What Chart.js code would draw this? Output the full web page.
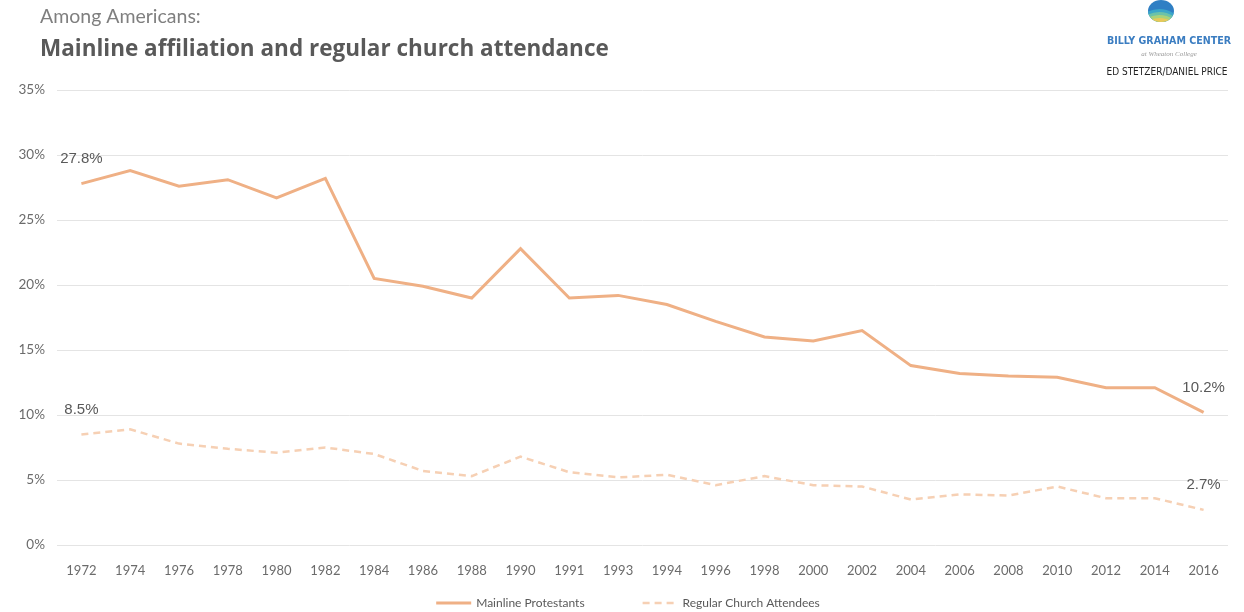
<!DOCTYPE html>
<html>
<head>
<meta charset="utf-8">
<script src="https://cdn.jsdelivr.net/npm/chart.js@4.4.1/dist/chart.umd.min.js"></script>
<style>
  html, body { margin: 0; padding: 0; background: #fff; }
  #wrap { position: relative; width: 1244px; height: 612px; }
</style>
</head>
<body>
<div id="wrap"><canvas id="chart_mainlineAttendance"></canvas></div>
<script>
// data
var years = ['1972', '1974', '1976', '1978', '1980', '1982', '1984', '1986', '1988', '1990', '1991', '1993',
             '1994', '1996', '1998', '2000', '2002', '2004', '2006', '2008', '2010', '2012', '2014', '2016'];
var mainlineProtestants = [27.8, 28.8, 27.6, 28.1, 26.7, 28.2, 20.5, 19.9, 19.0, 22.8, 19.0, 19.2,
                           18.5, 17.2, 16.0, 15.7, 16.5, 13.8, 13.2, 13.0, 12.9, 12.1, 12.1, 10.2];
var regularAttendees = [8.5, 8.9, 7.8, 7.4, 7.1, 7.5, 7.0, 5.7, 5.3, 6.8, 5.6, 5.2,
                        5.4, 4.6, 5.3, 4.6, 4.5, 3.5, 3.9, 3.8, 4.5, 3.6, 3.6, 2.7];
var yTicks = [0, 5, 10, 15, 20, 25, 30, 35];

var textGray = '#595959';
var tickGray = '#6b6b6b';

var chart_mainlineAttendance = new Chart(document.getElementById('chart_mainlineAttendance'), {
    type: 'line',
    data: {
        labels: years,
        datasets: [
            {
                label: 'Mainline Protestants',
                data: mainlineProtestants,
                borderColor: '#efb085',
                backgroundColor: '#efb085',
                borderWidth: 3,
                pointRadius: 0,
                tension: 0
            },
            {
                label: 'Regular Church Attendees',
                data: regularAttendees,
                borderColor: '#f6d0b4',
                backgroundColor: '#f6d0b4',
                borderWidth: 2.5,
                borderDash: [7, 5],
                pointRadius: 0,
                tension: 0
            }
        ]
    },
    options: {
        animation: false,
        responsive: true,
        maintainAspectRatio: false,
        layout: {
            padding: { top: 90, right: 16, bottom: 0, left: 0 }
        },
        plugins: {
            legend: { display: false },
            tooltip: { enabled: false }
        },
        scales: {
            x: {
                offset: true,
                grid: { display: false },
                border: { display: false },
                ticks: {
                    color: tickGray,
                    padding: 10,
                    maxRotation: 0,
                    autoSkip: false,
                    font: { family: 'Lato', size: 13 }
                },
                afterFit: function (scale) { scale.height = 67; }
            },
            y: {
                min: 0,
                max: 35,
                afterBuildTicks: function (scale) {
                    scale.ticks = yTicks.map(function (v) { return { value: v }; });
                },
                grid: { color: '#e4e4e4', lineWidth: 1, drawTicks: false },
                border: { display: false },
                ticks: {
                    color: tickGray,
                    padding: 12,
                    font: { family: 'Lato', size: 13.5 },
                    callback: function (v) { return v + '%'; }
                },
                afterFit: function (scale) { scale.width = 57; }
            }
        }
    },
    plugins: [{
        id: 'customPlugin',
        beforeDraw: function (chart) {
            var ctx = chart.ctx;
            ctx.save();
            ctx.fillStyle = 'white';
            ctx.fillRect(0, 0, chart.width, chart.height);

            // headings
            ctx.textBaseline = 'alphabetic';
            ctx.textAlign = 'left';
            ctx.fillStyle = '#7f7f7f';
            ctx.font = '19.5px Lato';
            ctx.fillText('Among Americans:', 40, 23);
            ctx.fillStyle = textGray;
            ctx.font = 'bold 22.5px "Open Sans"';
            ctx.fillText('Mainline affiliation and regular church attendance', 40, 56);

            // logo block, top right
            var cx = 1161, cy = 11;
            ctx.save();
            ctx.beginPath();
            ctx.ellipse(cx, cy, 13, 11, 0, 0, Math.PI * 2);
            ctx.clip();
            ctx.fillStyle = '#2f7fc4';
            ctx.fillRect(cx - 14, cy - 12, 28, 24);
            var bands = ['#3aa6c9', '#6cc2a8', '#a8d27a', '#e8c95a'];
            for (var i = 0; i < bands.length; i++) {
                ctx.beginPath();
                ctx.moveTo(cx - 14, cy + 1 + i * 3);
                ctx.quadraticCurveTo(cx, cy - 6 + i * 3, cx + 14, cy + 3 + i * 3);
                ctx.lineTo(cx + 14, cy + 14);
                ctx.lineTo(cx - 14, cy + 14);
                ctx.closePath();
                ctx.fillStyle = bands[i];
                ctx.fill();
            }
            ctx.restore();

            ctx.textAlign = 'center';
            ctx.fillStyle = '#3b7dc1';
            ctx.font = 'bold 11px "Liberation Sans Narrow", "DejaVu Sans Condensed", sans-serif';
            ctx.fillText('BILLY GRAHAM CENTER', 1169, 44, 124);
            ctx.fillStyle = '#9a9a9a';
            ctx.font = 'italic 7px "Liberation Serif"';
            ctx.fillText('at Wheaton College', 1169, 56, 60);
            ctx.fillStyle = '#222';
            ctx.font = '10px "Liberation Sans Narrow", "DejaVu Sans Condensed", sans-serif';
            ctx.fillText('ED STETZER/DANIEL PRICE', 1167, 75, 128);
            ctx.restore();
        },
        afterDraw: function (chart) {
            // legend row at the bottom, built from the datasets
            var ctx = chart.ctx;
            var sets = chart.data.datasets;
            var lineLen = 35, gapText = 5, gapItem = 58, y = 603;
            ctx.save();
            ctx.font = '12px Lato';
            ctx.textBaseline = 'middle';
            ctx.textAlign = 'left';
            var total = 0;
            sets.forEach(function (ds, i) {
                total += lineLen + gapText + ctx.measureText(ds.label).width + (i < sets.length - 1 ? gapItem : 0);
            });
            var x = 628 - total / 2;
            sets.forEach(function (ds) {
                ctx.strokeStyle = ds.borderColor;
                ctx.lineWidth = ds.borderWidth;
                ctx.setLineDash(ds.borderDash || []);
                ctx.beginPath();
                ctx.moveTo(x, y);
                ctx.lineTo(x + lineLen, y);
                ctx.stroke();
                x += lineLen + gapText;
                ctx.fillStyle = textGray;
                ctx.fillText(ds.label, x, y);
                x += ctx.measureText(ds.label).width + gapItem;
            });
            ctx.restore();
        },
        afterDatasetsDraw: function (chart) {
            // end value labels
            var ctx = chart.ctx;
            ctx.save();
            ctx.fillStyle = textGray;
            ctx.font = '15px "Liberation Sans"';
            ctx.textAlign = 'center';
            ctx.textBaseline = 'middle';
            chart.data.datasets.forEach(function (ds, di) {
                var pts = chart.getDatasetMeta(di).data;
                [0, pts.length - 1].forEach(function (idx) {
                    var p = pts[idx];
                    ctx.fillText(ds.data[idx].toFixed(1) + '%', p.x, p.y - 25);
                });
            });
            ctx.restore();
        }
    }]
});
</script>
</body>
</html>
